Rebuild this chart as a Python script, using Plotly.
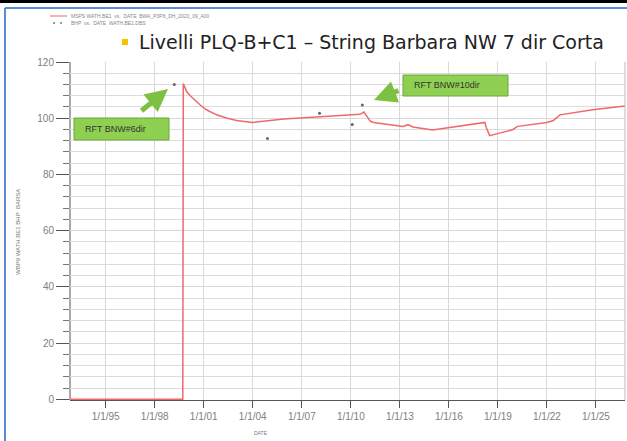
import plotly.graph_objects as go

# ---- data ----
line_dates = ["1992-10-25", "1999-09-20", "1999-10-01", "1999-11-10", "1999-12-15", "2000-02-28",
              "2000-06-20", "2000-10-08", "2001-03-01", "2001-10-15", "2002-05-25", "2003-01-01",
              "2004-01-01", "2005-11-25", "2007-11-25", "2010-01-01", "2010-07-24", "2010-10-20",
              "2011-03-15", "2011-05-25", "2012-08-08", "2013-03-15", "2013-07-01", "2013-10-20",
              "2015-01-01", "2016-09-12", "2018-03-15", "2018-04-20", "2018-07-01", "2019-02-05",
              "2019-11-25", "2020-03-15", "2022-01-01", "2022-05-25", "2022-10-20", "2024-10-20",
              "2026-11-25"]
line_vals = [0, 0, 112.3, 110.7, 109.5, 108.1,
             106.3, 104.8, 103.0, 101.2, 100.1, 99.2,
             98.5, 99.7, 100.4, 101.0, 101.4, 102.2,
             98.9, 98.5, 97.7, 97.1, 97.7, 96.9,
             95.8, 97.1, 98.5, 96.5, 93.8, 94.7,
             95.9, 97.1, 98.5, 99.2, 101.2, 103.0,
             104.4]

pt_dates = ["1999-03-15", "2004-11-25", "2008-02-01", "2010-02-01", "2010-09-15"]
pt_vals = [112.0, 92.8, 101.8, 97.8, 104.7]

tick_dates = ["1995-01-01", "1998-01-01", "2001-01-01", "2004-01-01", "2007-01-01", "2010-01-01",
              "2013-01-01", "2016-01-01", "2019-01-01", "2022-01-01", "2025-01-01"]
tick_labels = ["1/1/95", "1/1/98", "1/1/01", "1/1/04", "1/1/07", "1/1/10",
               "1/1/13", "1/1/16", "1/1/19", "1/1/22", "1/1/25"]

title_text = "Livelli PLQ-B+C1 – String Barbara NW 7 dir Corta"
rft_labels = ["RFT BNW#6dir", "RFT BNW#10dir"]
legend_labels = ["MSPS WATH.BE1  vs.  DATE  BWA_P3P8_DH_2020_09_A00",
                 "BHP  vs.  DATE  WATH.BE1.DBS"]

W, H = 627, 441
L, R, T, B = 70, 2, 62, 41
PW, PH = W - L - R, H - T - B


def px(x):
    return (x - L) / PW


def py(y):
    return (H - B - y) / PH


fig = go.Figure()
fig.add_trace(go.Scatter(x=line_dates, y=line_vals, mode="lines",
                         line=dict(color="#f06868", width=1.5), showlegend=False))
fig.add_trace(go.Scatter(x=pt_dates, y=pt_vals, mode="markers",
                         marker=dict(color="#666666", size=3), showlegend=False))

font = "Liberation Sans, Arial, sans-serif"
fig.update_layout(
    width=W, height=H,
    margin=dict(l=L, r=R, t=T, b=B),
    paper_bgcolor="white", plot_bgcolor="white",
    xaxis=dict(type="date", range=["1992-10-25", "2026-10-12"],
               tickvals=tick_dates, ticktext=tick_labels,
               showgrid=True, gridcolor="#d9d9d9", gridwidth=1,
               showline=True, linecolor="#555555", linewidth=1,
               ticks="outside", ticklen=7, tickcolor="#555555",
               tickfont=dict(family=font, size=10, color="#808080"),
               zeroline=False, layer="below traces"),
    yaxis=dict(range=[-0.25, 120], dtick=20, tick0=0,
               showgrid=True, gridcolor="#d9d9d9", gridwidth=1,
               showline=False,
               ticks="outside", ticklen=13, tickcolor="#555555",
               tickfont=dict(family=font, size=10, color="#808080"),
               minor=dict(dtick=4, ticks="outside", ticklen=6, tickcolor="#777777",
                          showgrid=True, gridcolor="#dcdcdc", gridwidth=1),
               zeroline=False, layer="below traces"),
)

shapes = []
# frame
shapes.append(dict(type="rect", xref="paper", yref="paper", x0=px(0), x1=px(W), y0=py(0), y1=py(3),
                   fillcolor="black", line=dict(width=0)))
shapes.append(dict(type="line", xref="paper", yref="paper", x0=px(5), x1=px(W), y0=py(8), y1=py(8),
                   line=dict(color="#5b8bd0", width=2)))
shapes.append(dict(type="line", xref="paper", yref="paper", x0=px(5), x1=px(5), y0=py(8), y1=py(H),
                   line=dict(color="#5b8bd0", width=2)))
shapes.append(dict(type="line", xref="paper", yref="paper", x0=px(625), x1=px(625), y0=py(62), y1=py(400),
                   line=dict(color="#bbbbbb", width=1)))
# y axis line (drawn below the traces)
shapes.append(dict(type="line", xref="paper", yref="paper", x0=0, x1=0, y0=0, y1=1, layer="below",
                   line=dict(color="#555555", width=1)))
# tiny legend
shapes.append(dict(type="line", xref="paper", yref="paper", x0=px(50), x1=px(67), y0=py(16), y1=py(16),
                   line=dict(color="#f06868", width=1)))
shapes.append(dict(type="circle", xref="paper", yref="paper", x0=px(53), x1=px(55), y0=py(22), y1=py(24),
                   fillcolor="#777777", line=dict(width=0)))
shapes.append(dict(type="circle", xref="paper", yref="paper", x0=px(60), x1=px(62), y0=py(22), y1=py(24),
                   fillcolor="#777777", line=dict(width=0)))
# title bullet
shapes.append(dict(type="rect", xref="paper", yref="paper", x0=px(122), x1=px(128), y0=py(45), y1=py(39),
                   fillcolor="#f5c400", line=dict(width=0)))
# green boxes
shapes.append(dict(type="rect", xref="paper", yref="paper", x0=px(74), x1=px(169), y0=py(140), y1=py(118),
                   fillcolor="#8fd052", line=dict(color="#6aa83a", width=1)))
shapes.append(dict(type="rect", xref="paper", yref="paper", x0=px(403), x1=px(508), y0=py(96), y1=py(75),
                   fillcolor="#8fd052", line=dict(color="#6aa83a", width=1)))
fig.update_layout(shapes=shapes)

ann = []
ann.append(dict(xref="paper", yref="paper", x=px(137), y=py(42), xanchor="left", yanchor="middle",
                text=title_text, showarrow=False,
                font=dict(family="DejaVu Sans", size=19, color="#222222")))
ann.append(dict(xref="paper", yref="paper", x=px(69), y=py(16), xanchor="left", yanchor="middle",
                text=legend_labels[0], showarrow=False,
                font=dict(family=font, size=5, color="#888888")))
ann.append(dict(xref="paper", yref="paper", x=px(69), y=py(23), xanchor="left", yanchor="middle",
                text=legend_labels[1], showarrow=False,
                font=dict(family=font, size=5, color="#888888")))
ann.append(dict(xref="paper", yref="paper", x=px(83), y=py(129), xanchor="left", yanchor="middle",
                text=rft_labels[0], showarrow=False,
                font=dict(family=font, size=9, color="#333333")))
ann.append(dict(xref="paper", yref="paper", x=px(412), y=py(85.5), xanchor="left", yanchor="middle",
                text=rft_labels[1], showarrow=False,
                font=dict(family=font, size=9, color="#333333")))
# arrows
ann.append(dict(xref="paper", yref="paper", x=px(168), y=py(89), ax=-28, ay=23, text="",
                showarrow=True, arrowhead=2, arrowsize=0.9, arrowwidth=5, arrowcolor="#7cc142"))
ann.append(dict(xref="paper", yref="paper", x=px(374), y=py(100), ax=26, ay=-10, text="",
                showarrow=True, arrowhead=2, arrowsize=0.9, arrowwidth=5, arrowcolor="#7cc142"))
# axis titles
ann.append(dict(xref="paper", yref="paper", x=px(18), y=py(232), xanchor="center", yanchor="middle",
                text="WBP9 WATH.BE1 BHP  BARSA", textangle=-90, showarrow=False,
                font=dict(family=font, size=6, color="#777777")))
ann.append(dict(xref="paper", yref="paper", x=px(261), y=py(433), xanchor="center", yanchor="middle",
                text="DATE", showarrow=False,
                font=dict(family=font, size=5, color="#777777")))
fig.update_layout(annotations=ann)

fig.write_html("out.html", config={"displayModeBar": False},
               post_script="document.body.style.margin='0px';document.body.style.overflow='hidden';")
